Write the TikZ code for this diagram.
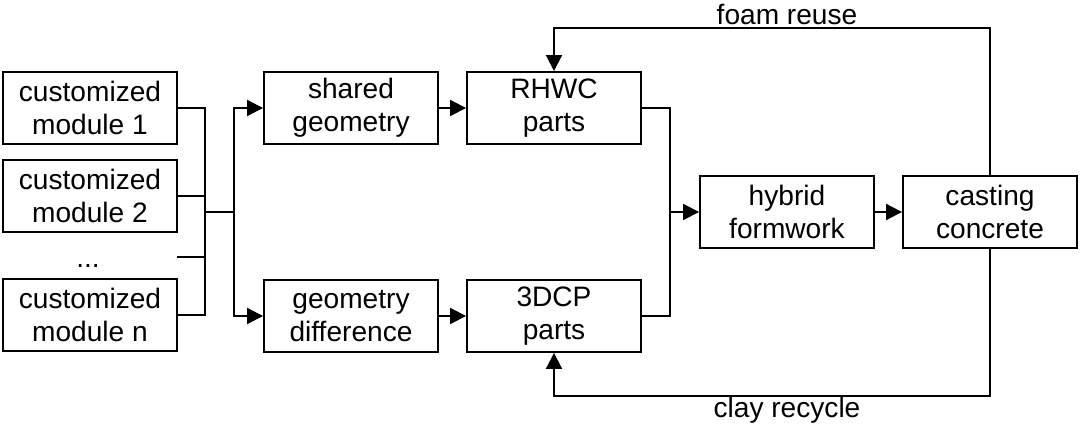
\documentclass[tikz,border=0pt]{standalone}
\usepackage{fontspec}
\setmainfont{Liberation Sans}
\usetikzlibrary{arrows.meta}

\tikzset{
  stepbox/.style={draw,line width=1.1pt,minimum width=3.48cm,minimum height=1.44cm,
    align=center,inner sep=0pt,font=\fontsize{16}{19}\selectfont},
  lbl/.style={font=\fontsize{16}{19}\selectfont},
  arr/.style={-{Triangle[length=0.32cm,width=0.32cm]}},
}

\begin{document}
\begin{tikzpicture}[x=0.02cm,y=-0.02cm,line width=1.1pt]
    \useasboundingbox (0,0) rectangle (1080,428);
    % input modules
    \node[stepbox] (mod1) at (90,108) {customized\\module 1};
    \node[stepbox] (mod2) at (90,196) {customized\\module 2};
    \node[lbl] (dots) at (88,266) {...};
    \node[stepbox] (modn) at (90,315) {customized\\module n};
    %%
    \node[stepbox] (shared) at (351,108) {shared\\geometry};
    \node[stepbox] (diff) at (351,316) {geometry\\difference};
    \node[stepbox] (rhwc) at (554,108) {RHWC\\parts};
    \node[stepbox] (tdcp) at (554,316) {3DCP\\parts};
    \node[stepbox] (hybrid) at (787,212) {hybrid\\formwork};
    \node[stepbox] (cast) at (990,212) {casting\\concrete};
    \node[lbl] (foam) at (787,14) {foam reuse};
    \node[lbl] (clay) at (787,410) {clay recycle};
    %%
    \coordinate (dl) at (177,257);
    \coordinate (bus) at (205,212);
    \coordinate (split) at (234,212);
    \coordinate (merge) at (670,212);
    \draw (mod1.east) -| (bus);
    \draw (mod2.east) -| (bus);
    \draw (dl) -| (bus);
    \draw (modn.east) -| (bus);
    \draw (bus) -- (split);
    \draw[arr] (split) |- (shared.west);
    \draw[arr] (split) |- (diff.west);
    \draw[arr] (shared) -- (rhwc);
    \draw[arr] (diff) -- (tdcp);
    \draw (rhwc.east) -| (merge);
    \draw (tdcp.east) -| (merge);
    \draw[arr] (merge) -- (hybrid);
    \draw[arr] (hybrid) -- (cast);
    % loops back
    \draw[arr] (cast.north) -- ++(0,-147) -| (rhwc.north);
    \draw[arr] (cast.south) -- ++(0,147) -| (tdcp.south);
  \end{tikzpicture}
\end{document}
